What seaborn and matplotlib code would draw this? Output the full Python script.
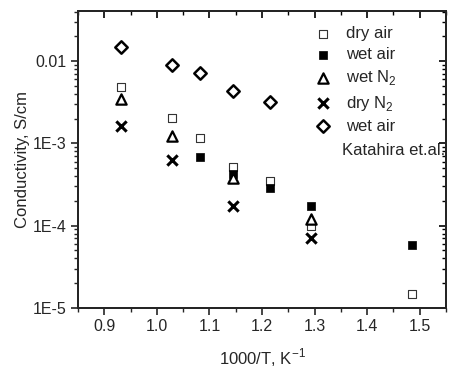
import numpy as np
import pandas as pd
import matplotlib
matplotlib.use("Agg")
import matplotlib.pyplot as plt
from matplotlib.ticker import FixedLocator, FixedFormatter, LogLocator, NullFormatter, MultipleLocator
import seaborn as sns

# ---- data ----
x_dry_air = [0.932, 1.029, 1.083, 1.145, 1.215, 1.294, 1.486]
y_dry_air = [4.8e-3, 2.03e-3, 1.15e-3, 5.2e-4, 3.5e-4, 1.0e-4, 1.5e-5]

x_wet_air = [1.083, 1.145, 1.215, 1.294, 1.486]
y_wet_air = [6.9e-4, 4.3e-4, 2.9e-4, 1.73e-4, 5.8e-5]

x_wet_n2 = [0.932, 1.029, 1.145, 1.294]
y_wet_n2 = [3.42e-3, 1.23e-3, 3.8e-4, 1.22e-4]

x_dry_n2 = [0.932, 1.029, 1.145, 1.294]
y_dry_n2 = [1.62e-3, 6.3e-4, 1.74e-4, 7.0e-5]

x_kat = [0.932, 1.029, 1.083, 1.145, 1.215]
y_kat = [1.49e-2, 8.9e-3, 7.1e-3, 4.36e-3, 3.2e-3]

labels = ["dry air", "wet air", "wet N$_2$", "dry N$_2$", "wet air"]
x_ticks = [0.9, 1.0, 1.1, 1.2, 1.3, 1.4, 1.5]
x_ticklabels = ["0.9", "1.0", "1.1", "1.2", "1.3", "1.4", "1.5"]
y_ticks = [1e-5, 1e-4, 1e-3, 1e-2]
y_ticklabels = ["1E-5", "1E-4", "1E-3", "0.01"]

sns.set_style("ticks")
plt.rcParams['font.family'] = ['Liberation Sans', 'DejaVu Sans']
plt.rcParams['mathtext.fontset'] = 'custom'
plt.rcParams['mathtext.rm'] = 'Liberation Sans'

fig = plt.figure(figsize=(4.52, 3.72), dpi=100)
ax = fig.add_axes([0.1726, 0.172, 0.814, 0.798])

series = [
    (x_dry_air, y_dry_air, dict(marker="s", s=30, facecolor="white", edgecolor="#333333", linewidth=0.8)),
    (x_wet_air, y_wet_air, dict(marker="s", s=40, facecolor="black", edgecolor="black", linewidth=0.5)),
    (x_wet_n2, y_wet_n2, dict(marker="^", s=55, facecolor="white", edgecolor="black", linewidth=1.6)),
    (x_dry_n2, y_dry_n2, dict(marker="x", s=55, color="black", linewidth=2.2)),
    (x_kat, y_kat, dict(marker="D", s=40, facecolor="white", edgecolor="black", linewidth=1.8)),
]
for (xs, ys, kw), lab in zip(series, labels):
    df = pd.DataFrame({"x": xs, "y": ys})
    sns.scatterplot(data=df, x="x", y="y", ax=ax, label=lab, zorder=3, **kw)

ax.set_yscale("log")
ax.set_xlim(0.85, 1.55)
ax.set_ylim(1e-5, 0.0405)

ax.xaxis.set_major_locator(FixedLocator(x_ticks))
ax.xaxis.set_major_formatter(FixedFormatter(x_ticklabels))
ax.xaxis.set_minor_locator(MultipleLocator(0.05))
ax.yaxis.set_major_locator(FixedLocator(y_ticks))
ax.yaxis.set_major_formatter(FixedFormatter(y_ticklabels))
ax.yaxis.set_minor_locator(LogLocator(base=10, subs=np.arange(2, 10)))
ax.yaxis.set_minor_formatter(NullFormatter())

ax.tick_params(axis="both", which="major", direction="out", length=5, width=1.2, labelsize=11.5, pad=3)
ax.tick_params(axis="both", which="minor", direction="out", length=3, width=1.0)

for sp in ax.spines.values():
    sp.set_linewidth(1.4)
    sp.set_color("black")

# mirrored inward ticks on top/right
axt = ax.twiny()
axt.set_xlim(ax.get_xlim())
axt.xaxis.set_ticks_position("top")
axt.xaxis.set_major_locator(FixedLocator(x_ticks))
axt.xaxis.set_minor_locator(MultipleLocator(0.05))
axt.tick_params(axis="x", which="both", top=True, bottom=False, labeltop=False, labelbottom=False,
                direction="in", color="black")
axt.tick_params(axis="x", which="major", length=5, width=1.2)
axt.tick_params(axis="x", which="minor", length=3, width=1.0)
axr = ax.twinx()
axr.set_yscale("log")
axr.set_ylim(ax.get_ylim())
axr.yaxis.set_ticks_position("right")
axr.yaxis.set_major_locator(FixedLocator(y_ticks))
axr.yaxis.set_minor_locator(LogLocator(base=10, subs=np.arange(2, 10)))
axr.yaxis.set_minor_formatter(NullFormatter())
axr.tick_params(axis="y", which="both", right=True, left=False, labelright=False, labelleft=False,
                direction="in", color="black")
axr.tick_params(axis="y", which="major", length=5, width=1.2)
axr.tick_params(axis="y", which="minor", length=3, width=1.0)
for a in (axt, axr):
    for sp in a.spines.values():
        sp.set_linewidth(1.4)

ax.set_xlabel("1000/T, K$^{-1}$", fontsize=12, labelpad=9)
ax.set_ylabel("Conductivity, S/cm", fontsize=12, labelpad=2)

leg = ax.legend(loc="upper left", bbox_to_anchor=(0.625, 0.972), frameon=False, fontsize=12,
                handletextpad=0.9, labelspacing=0.37, borderaxespad=0.0, handlelength=1.0)
ax.text(0.997, 0.53, "Katahira et.al.", transform=ax.transAxes, ha="right", va="center", fontsize=12)

fig.savefig("out.png", dpi=100)
